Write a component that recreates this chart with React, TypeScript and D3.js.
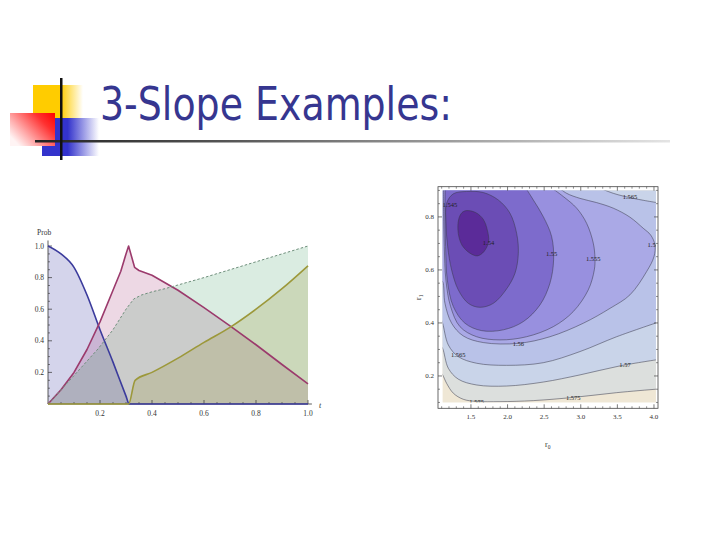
import React from "react";
import * as d3 from "d3";

// ---------- Title ----------
const titleText = "3-Slope Examples:";

// ---------- Left chart: probabilities vs t ----------
const blueT = [0, 0.05, 0.1, 0.15, 0.2, 0.25, 0.3, 0.312, 1.0];
const blueP = [1.0, 0.95, 0.865, 0.69, 0.47, 0.265, 0.05, 0, 0];
const pinkT = [0, 0.05, 0.1, 0.15, 0.2, 0.25, 0.28, 0.3, 0.31, 0.333, 0.35, 0.4, 0.5, 0.6, 0.7, 0.8, 0.9, 1.0];
const pinkP = [0, 0.09, 0.2, 0.345, 0.52, 0.72, 0.84, 0.95, 1.0, 0.865, 0.845, 0.815, 0.72, 0.61, 0.495, 0.375, 0.25, 0.128];
const greenT = [0, 0.1, 0.193, 0.25, 0.3, 0.33, 0.36, 0.4, 0.45, 0.6, 0.8, 1.0];
const greenP = [0, 0.18, 0.35, 0.47, 0.6, 0.665, 0.69, 0.71, 0.73, 0.8, 0.9, 1.0];
const yellowT = [0, 0.31, 0.335, 0.4, 0.5, 0.6, 0.7, 0.8, 0.9, 1.0];
const yellowP = [0, 0, 0.15, 0.2, 0.29, 0.39, 0.485, 0.6, 0.73, 0.875];
const leftXTicks = [0.2, 0.4, 0.6, 0.8, 1.0];
const leftYTicks = [0.2, 0.4, 0.6, 0.8, 1.0];

// ---------- Right chart: contour plot over (r0, r1) ----------
const r0Ticks = [1.5, 2.0, 2.5, 3.0, 3.5, 4.0];
const r1Ticks = [0.2, 0.4, 0.6, 0.8];
const r0Range = [1.113, 4.027];
const r1Range = [0.1, 0.9];
const contourLevels = [1.54, 1.545, 1.55, 1.555, 1.56, 1.565, 1.57, 1.575];

const c154 = [[1.441, 0.824], [1.568, 0.816], [1.668, 0.791], [1.723, 0.751], [1.741, 0.707], [1.677, 0.669], [1.586, 0.653], [1.477, 0.665], [1.377, 0.694], [1.327, 0.738], [1.331, 0.789], [1.377, 0.816]];
const c1545 = [[1.168, 0.852], [1.259, 0.887], [1.441, 0.896], [1.668, 0.892], [1.873, 0.864], [2.033, 0.814], [2.124, 0.738], [2.147, 0.663], [2.101, 0.587], [1.978, 0.525], [1.805, 0.474], [1.623, 0.459], [1.464, 0.474], [1.327, 0.525], [1.236, 0.6], [1.182, 0.688], [1.159, 0.776]];
const c155 = [[1.149, 0.914], [1.145, 0.814], [1.154, 0.688], [1.177, 0.562], [1.259, 0.462], [1.418, 0.399], [1.646, 0.371], [1.942, 0.374], [2.215, 0.405], [2.443, 0.468], [2.579, 0.55], [2.629, 0.638], [2.602, 0.726], [2.488, 0.801], [2.352, 0.864], [2.238, 0.914]];
const c1555 = [[1.127, 0.914], [1.127, 0.814], [1.136, 0.688], [1.158, 0.562], [1.222, 0.462], [1.35, 0.386], [1.577, 0.348], [1.896, 0.336], [2.26, 0.348], [2.625, 0.386], [2.898, 0.443], [3.103, 0.525], [3.185, 0.6], [3.194, 0.644], [3.171, 0.701], [3.08, 0.776], [2.944, 0.833], [2.761, 0.877], [2.579, 0.914]];
const c156 = [[1.077, 0.562], [1.113, 0.556], [1.145, 0.474], [1.236, 0.399], [1.395, 0.351], [1.668, 0.326], [2.147, 0.323], [2.579, 0.348], [3.035, 0.399], [3.399, 0.455], [3.672, 0.506], [3.9, 0.594], [4.0, 0.65], [4.014, 0.694], [3.954, 0.732], [3.854, 0.757], [3.672, 0.799], [3.444, 0.833], [3.217, 0.854], [2.989, 0.87], [2.807, 0.889], [2.693, 0.912]];
const c1565lo = [[1.077, 0.424], [1.113, 0.399], [1.191, 0.317], [1.327, 0.273], [1.577, 0.248], [1.987, 0.24], [2.488, 0.25], [2.989, 0.292], [3.49, 0.348], [4.081, 0.405]];
const c1565hi = [[3.217, 0.914], [3.444, 0.889], [3.718, 0.87], [4.082, 0.852]];
const c157 = [[1.077, 0.317], [1.113, 0.304], [1.191, 0.229], [1.327, 0.188], [1.577, 0.166], [1.987, 0.162], [2.488, 0.177], [2.989, 0.204], [3.536, 0.238], [4.081, 0.263]];
const c1575 = [[1.077, 0.216], [1.113, 0.204], [1.168, 0.172], [1.259, 0.135], [1.395, 0.112], [1.577, 0.104], [1.896, 0.103], [2.352, 0.107], [2.898, 0.119], [3.49, 0.137], [4.027, 0.15], [4.081, 0.151]];

const contourLabels = [
  { text: "1.545", r0: 1.213, r1: 0.845 },
  { text: "1.54", r0: 1.74, r1: 0.701 },
  { text: "1.55", r0: 2.602, r1: 0.66 },
  { text: "1.555", r0: 3.171, r1: 0.644 },
  { text: "1.56", r0: 3.99, r1: 0.694 },
  { text: "1.565", r0: 3.672, r1: 0.877 },
  { text: "1.56", r0: 2.147, r1: 0.323 },
  { text: "1.565", r0: 1.327, r1: 0.279 },
  { text: "1.57", r0: 3.604, r1: 0.242 },
  { text: "1.575", r0: 1.577, r1: 0.104 },
  { text: "1.575", r0: 2.898, r1: 0.117 },
];

export default function App() {
  // ---- left chart scales ----
  const lx = d3.scaleLinear().domain([0, 1]).range([48, 308]);
  const ly = d3.scaleLinear().domain([0, 1]).range([404, 246]);
  const zip = (t: number[], p: number[]) => t.map((v, i) => [v, p[i]] as [number, number]);
  const series = [
    { data: zip(blueT, blueP), stroke: "#3b3b9c", fill: "rgba(60,60,165,0.22)", dash: undefined as string | undefined, w: 1.6, curve: d3.curveMonotoneX },
    { data: zip(pinkT, pinkP), stroke: "#9b3a6c", fill: "rgba(165,60,120,0.2)", dash: undefined, w: 1.6, curve: d3.curveLinear },
    { data: zip(greenT, greenP), stroke: "#6f8f7c", fill: "rgba(70,160,105,0.2)", dash: "2.5,2", w: 1, curve: d3.curveLinear },
    { data: zip(yellowT, yellowP), stroke: "#9c983a", fill: "rgba(150,145,50,0.22)", dash: undefined, w: 1.6, curve: d3.curveMonotoneX },
  ];
  const areaGen = (curve: any) =>
    d3.area<[number, number]>().x((d) => lx(d[0])).y0(ly(0)).y1((d) => ly(d[1])).curve(curve);
  const lineGen = (curve: any) =>
    d3.line<[number, number]>().x((d) => lx(d[0])).y((d) => ly(d[1])).curve(curve);
  const minorL = d3.range(0, 1.0001, 0.05).filter((v) => Math.abs(Math.round(v * 5) - v * 5) > 1e-6);

  // ---- right chart scales ----
  const sx = d3.scaleLinear().domain([1.05, 4.055]).range([438, 658]);
  const sy = d3.scaleLinear().domain([0.078, 0.914]).range([408.3, 186.7]);
  const openLine = d3.line<number[]>().x((d) => sx(d[0])).y((d) => sy(d[1])).curve(d3.curveCatmullRom.alpha(0.5));
  const closedLine = d3.line<number[]>().x((d) => sx(d[0])).y((d) => sy(d[1])).curve(d3.curveCatmullRomClosed.alpha(0.5));
  const pts = (arr: number[][]) => arr.map((d) => `L${sx(d[0])},${sy(d[1])}`).join("");
  const first = (a: number[][]) => a[0];
  const last = (a: number[][]) => a[a.length - 1];
  const TOP = 0.96, LEFT = 1.0, RIGHT = 4.2;

  const regTop = (a: number[][]) => (openLine(a) as string) + pts([[last(a)[0], TOP], [first(a)[0], TOP]]) + "Z";
  const reg156 = (openLine(c156) as string) + pts([[last(c156)[0], TOP], [LEFT, TOP], [LEFT, first(c156)[1]]]) + "Z";
  const regBelow = (a: number[][]) =>
    (openLine(a) as string) + pts([[RIGHT, last(a)[1]], [RIGHT, TOP], [LEFT, TOP], [LEFT, first(a)[1]]]) + "Z";
  const hiRev = [...c1565hi].reverse();
  const reg1565 =
    (openLine(c1565lo) as string) +
    pts([[RIGHT, last(c1565lo)[1]], [RIGHT, first(hiRev)[1]]]) +
    (openLine(hiRev) as string).replace(/^M/, "L") +
    pts([[last(hiRev)[0], TOP], [LEFT, TOP], [LEFT, first(c1565lo)[1]]]) +
    "Z";

  const regionColors = ["#5b2b99", "#6b4db5", "#7d6bcc", "#9890df", "#aaa9e6", "#b9c2e8", "#c9d4e9", "#dcdfdd", "#efe7d5"];
  const regions = [
    { d: regBelow(c1575), fill: regionColors[7] },
    { d: regBelow(c157), fill: regionColors[6] },
    { d: reg1565, fill: regionColors[5] },
    { d: reg156, fill: regionColors[4] },
    { d: regTop(c1555), fill: regionColors[3] },
    { d: regTop(c155), fill: regionColors[2] },
    { d: closedLine(c1545) as string, fill: regionColors[1] },
    { d: closedLine(c154) as string, fill: regionColors[0] },
  ];
  const strokes = [
    openLine(c1575), openLine(c157), openLine(c1565lo), openLine(c1565hi), openLine(c156),
    openLine(c1555), openLine(c155), closedLine(c1545), closedLine(c154),
  ] as string[];

  const fx0 = sx.range()[0], fx1 = sx.range()[1], fy0 = sy.range()[1], fy1 = sy.range()[0];
  const r0Minor = d3.range(1.1, 4.001, 0.1).filter((v) => !r0Ticks.some((t) => Math.abs(t - v) < 1e-6));
  const r1Minor = d3.range(0.1, 0.9001, 0.05).filter((v) => !r1Ticks.some((t) => Math.abs(t - v) < 1e-6));

  const serif = "'Liberation Serif', 'DejaVu Serif', serif";

  return (
    <svg width={720} height={540} viewBox="0 0 720 540" style={{ display: "block", position: "absolute", left: 0, top: 0, background: "#fff" }}>
      <defs>
        <linearGradient id="gY" x1="0" y1="0" x2="1" y2="0">
          <stop offset="0" stopColor="#ffcc00" />
          <stop offset="0.55" stopColor="#ffcc00" />
          <stop offset="1" stopColor="#ffffff" />
        </linearGradient>
        <linearGradient id="gB" x1="0" y1="0" x2="1" y2="0">
          <stop offset="0" stopColor="#3333cc" />
          <stop offset="0.45" stopColor="#3333cc" />
          <stop offset="1" stopColor="#ffffff" />
        </linearGradient>
        <linearGradient id="gR" x1="1" y1="0" x2="0" y2="0.7">
          <stop offset="0" stopColor="#ff0000" />
          <stop offset="0.3" stopColor="#ff3030" />
          <stop offset="0.75" stopColor="#ffb0b0" />
          <stop offset="1" stopColor="#fff4f4" />
        </linearGradient>
        <linearGradient id="gL" x1="0" y1="0" x2="1" y2="0">
          <stop offset="0" stopColor="#222222" />
          <stop offset="0.3" stopColor="#555555" />
          <stop offset="1" stopColor="#e4e4e4" />
        </linearGradient>
        <clipPath id="plotClip">
          <rect x={sx(r0Range[0])} y={sy(r1Range[1])} width={sx(r0Range[1]) - sx(r0Range[0])} height={sy(r1Range[0]) - sy(r1Range[1])} />
        </clipPath>
      </defs>

      {/* ---- logo & title ---- */}
      <rect x={33} y={85} width={50} height={33} fill="url(#gY)" />
      <rect x={42} y={118} width={57} height={38} fill="url(#gB)" />
      <rect x={10} y={113} width={45} height={33} fill="url(#gR)" />
      <rect x={35} y={140} width={635} height={2.5} fill="url(#gL)" />
      <rect x={60} y={78} width={2.5} height={82} fill="#111" />
      <text x={100} y={120} fontFamily="'DejaVu Sans', Verdana, sans-serif" fontSize={47} fill="#363690" textLength={352} lengthAdjust="spacingAndGlyphs">
        {titleText}
      </text>

      {/* ---- left chart ---- */}
      <g>
        {series.map((s, i) => (
          <path key={"a" + i} d={areaGen(s.curve)(s.data) as string} fill={s.fill} stroke="none" />
        ))}
        <line x1={lx(0)} x2={lx(1.015)} y1={ly(0)} y2={ly(0)} stroke="#333" strokeWidth={0.8} />
        <line x1={lx(0)} x2={lx(0)} y1={ly(0)} y2={ly(1.035)} stroke="#333" strokeWidth={0.8} />
        {leftXTicks.map((t) => (
          <g key={"xt" + t}>
            <line x1={lx(t)} x2={lx(t)} y1={ly(0)} y2={ly(0) - 4} stroke="#333" strokeWidth={0.7} />
            <text x={lx(t)} y={ly(0) + 12} fontSize={7.5} fontFamily={serif} textAnchor="middle" fill="#333">{t.toFixed(1)}</text>
          </g>
        ))}
        {minorL.map((t) => (
          <line key={"xm" + t} x1={lx(t)} x2={lx(t)} y1={ly(0)} y2={ly(0) - 2} stroke="#333" strokeWidth={0.6} />
        ))}
        {leftYTicks.map((t) => (
          <g key={"yt" + t}>
            <line x1={lx(0)} x2={lx(0) + 4} y1={ly(t)} y2={ly(t)} stroke="#333" strokeWidth={0.7} />
            <text x={lx(0) - 4} y={ly(t) + 2.6} fontSize={7.5} fontFamily={serif} textAnchor="end" fill="#333">{t.toFixed(1)}</text>
          </g>
        ))}
        {minorL.map((t) => (
          <line key={"ym" + t} x1={lx(0)} x2={lx(0) + 2} y1={ly(t)} y2={ly(t)} stroke="#333" strokeWidth={0.6} />
        ))}
        {series.map((s, i) => (
          <path key={"l" + i} d={lineGen(s.curve)(s.data) as string} fill="none" stroke={s.stroke} strokeWidth={s.w} strokeDasharray={s.dash} strokeLinejoin="round" />
        ))}
        <text x={37} y={235} fontSize={7.5} fontFamily={serif} fill="#333">Prob</text>
        <text x={319} y={408} fontSize={8} fontFamily={serif} fontStyle="italic" fill="#333">t</text>
      </g>

      {/* ---- right chart ---- */}
      <g>
        <rect x={sx(r0Range[0])} y={sy(r1Range[1])} width={sx(r0Range[1]) - sx(r0Range[0])} height={sy(r1Range[0]) - sy(r1Range[1])} fill={regionColors[8]} />
        <g clipPath="url(#plotClip)">
          {regions.map((r, i) => (
            <path key={"r" + i} d={r.d} fill={r.fill} stroke="none" />
          ))}
          {strokes.map((d, i) => (
            <path key={"s" + i} d={d} fill="none" stroke="#3a3a4a" strokeOpacity={0.75} strokeWidth={0.7} />
          ))}
          {contourLabels.map((l, i) => (
            <text key={"cl" + i} x={sx(l.r0)} y={sy(l.r1) + 2.3} fontSize={6.5} fontFamily={serif} textAnchor="middle" fill="#222">{l.text}</text>
          ))}
        </g>
        <rect x={fx0} y={fy0} width={fx1 - fx0} height={fy1 - fy0} fill="none" stroke="#444" strokeWidth={0.8} />
        {r0Ticks.map((t) => (
          <g key={"rx" + t}>
            <line x1={sx(t)} x2={sx(t)} y1={fy1} y2={fy1 - 4} stroke="#444" strokeWidth={0.7} />
            <line x1={sx(t)} x2={sx(t)} y1={fy0} y2={fy0 + 4} stroke="#444" strokeWidth={0.7} />
            <text x={sx(t)} y={fy1 + 11} fontSize={7} fontFamily={serif} textAnchor="middle" fill="#333">{t.toFixed(1)}</text>
          </g>
        ))}
        {r0Minor.map((t) => (
          <g key={"rxm" + t}>
            <line x1={sx(t)} x2={sx(t)} y1={fy1} y2={fy1 - 2} stroke="#444" strokeWidth={0.6} />
            <line x1={sx(t)} x2={sx(t)} y1={fy0} y2={fy0 + 2} stroke="#444" strokeWidth={0.6} />
          </g>
        ))}
        {r1Ticks.map((t) => (
          <g key={"ry" + t}>
            <line x1={fx0} x2={fx0 + 4} y1={sy(t)} y2={sy(t)} stroke="#444" strokeWidth={0.7} />
            <line x1={fx1} x2={fx1 - 4} y1={sy(t)} y2={sy(t)} stroke="#444" strokeWidth={0.7} />
            <text x={fx0 - 4} y={sy(t) + 2.4} fontSize={7} fontFamily={serif} textAnchor="end" fill="#333">{t.toFixed(1)}</text>
          </g>
        ))}
        {r1Minor.map((t) => (
          <g key={"rym" + t}>
            <line x1={fx0} x2={fx0 + 2} y1={sy(t)} y2={sy(t)} stroke="#444" strokeWidth={0.6} />
            <line x1={fx1} x2={fx1 - 2} y1={sy(t)} y2={sy(t)} stroke="#444" strokeWidth={0.6} />
          </g>
        ))}
        <text x={545} y={447} fontSize={8} fontFamily={serif} fill="#333">
          r<tspan fontSize={5.5} dy={2}>0</tspan>
        </text>
        <text transform="translate(421,300) rotate(-90)" fontSize={8} fontFamily={serif} fill="#333">
          r<tspan fontSize={5.5} dy={2}>1</tspan>
        </text>
      </g>
    </svg>
  );
}
